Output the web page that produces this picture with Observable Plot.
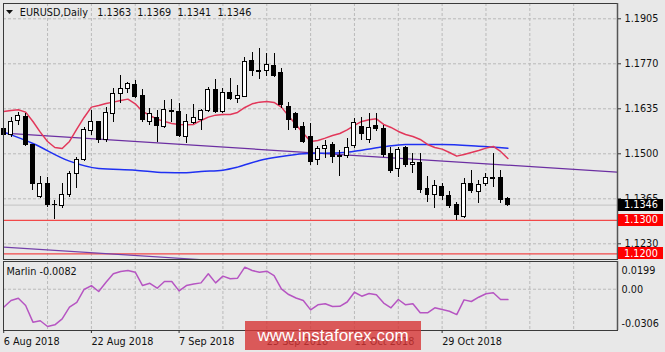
<!DOCTYPE html>
<html>
<head>
<meta charset="utf-8">
<script src="https://cdn.jsdelivr.net/npm/d3@7"></script>
<script src="https://cdn.jsdelivr.net/npm/@observablehq/plot@0.6"></script>
<style>
  html, body { margin: 0; padding: 0; background: #e8e8e8; }
  #chart { position: relative; width: 665px; height: 352px; overflow: hidden; background: #e8e8e8; }
  #chart svg { position: absolute; left: 0; }
  #chart svg text { white-space: pre; }
  #wm { position: absolute; left: 245px; top: 321px; width: 176px; height: 29px;
        background: rgba(214,52,52,0.8); color: #fff; font: 17px "Liberation Sans", Arial, sans-serif;
        line-height: 30px; text-align: center; }
</style>
</head>
<body>
<div id="chart"><div id="wm">www.instaforex.com</div></div>
<script>
// ---- data (daily EURUSD bars, 6 Aug 2018 .. 9 Nov 2018) ----
const opens = [1.1575,1.1555,1.1597,1.1610,1.1525,1.1370,1.1410,1.1347,1.1343,1.1375,
1.1440,1.1482,1.1568,1.1595,1.1540,1.1620,1.1680,1.1695,1.1707,1.1672,
1.1595,1.1608,1.1580,1.1628,1.1625,1.1550,1.1592,1.1602,1.1628,1.1690,
1.1625,1.1683,1.1665,1.1670,1.1778,1.1748,1.1747,1.1764,1.1742,1.1640,
1.1620,1.1580,1.1550,1.1480,1.1515,1.1525,1.1492,1.1492,1.1522,1.1580,
1.1542,1.1582,1.1575,1.1500,1.1455,1.1518,1.1466,1.1472,1.1395,1.1375,
1.1400,1.1372,1.1345,1.1310,1.1408,1.1385,1.1408,1.1425,1.1428,1.1363];
const highs = [1.1588,1.1610,1.1625,1.1620,1.1528,1.1432,1.1430,1.1360,1.1410,1.1447,
1.1490,1.1580,1.1630,1.1598,1.1640,1.1695,1.1735,1.1715,1.1720,1.1692,
1.1635,1.1630,1.1660,1.1662,1.1652,1.1618,1.1648,1.1632,1.1700,1.1722,
1.1697,1.1725,1.1705,1.1790,1.1805,1.1815,1.1800,1.1800,1.1757,1.1655,
1.1625,1.1595,1.1592,1.1522,1.1540,1.1535,1.1510,1.1545,1.1605,1.1610,
1.1620,1.1620,1.1585,1.1520,1.1520,1.1522,1.1500,1.1500,1.1432,1.1420,
1.1410,1.1388,1.1355,1.1425,1.1450,1.1420,1.1442,1.1500,1.1450,1.1369];
const lows = [1.1540,1.1548,1.1585,1.1522,1.1390,1.1366,1.1340,1.1302,1.1335,1.1370,
1.1395,1.1478,1.1555,1.1530,1.1535,1.1595,1.1650,1.1680,1.1665,1.1595,
1.1585,1.1535,1.1575,1.1595,1.1550,1.1530,1.1588,1.1570,1.1625,1.1620,
1.1620,1.1660,1.1650,1.1668,1.1732,1.1722,1.1732,1.1728,1.1636,1.1570,
1.1570,1.1530,1.1465,1.1465,1.1485,1.1470,1.1433,1.1485,1.1515,1.1540,
1.1530,1.1568,1.1490,1.1440,1.1430,1.1460,1.1440,1.1380,1.1355,1.1335,
1.1360,1.1335,1.1300,1.1305,1.1380,1.1352,1.1402,1.1400,1.1352,1.1341];
const closes = [1.1555,1.1595,1.1612,1.1525,1.1410,1.1410,1.1345,1.1345,1.1375,1.1438,
1.1482,1.1570,1.1595,1.1540,1.1622,1.1680,1.1695,1.1708,1.1670,1.1600,
1.1620,1.1582,1.1632,1.1626,1.1552,1.1595,1.1608,1.1627,1.1690,1.1625,
1.1682,1.1665,1.1672,1.1775,1.1747,1.1746,1.1767,1.1732,1.1645,1.1600,
1.1578,1.1535,1.1475,1.1515,1.1522,1.1490,1.1490,1.1517,1.1592,1.1558,
1.1578,1.1575,1.1495,1.1448,1.1512,1.1465,1.1472,1.1390,1.1375,1.1402,
1.1372,1.1342,1.1315,1.1408,1.1388,1.1407,1.1428,1.1428,1.1362,1.1346];

// red moving average (one value per bar)
const redMA = [1.1627,1.1630,1.1632,1.1625,1.1597,1.1565,1.1537,1.1519,1.1516,1.1537,
1.1574,1.1609,1.1640,1.1645,1.1651,1.1655,1.1660,1.1664,1.1650,1.1627,
1.1615,1.1604,1.1597,1.1591,1.1588,1.1587,1.1588,1.1600,1.1610,1.1616,
1.1618,1.1618,1.1624,1.1639,1.1650,1.1655,1.1657,1.1654,1.1640,1.1613,
1.1587,1.1562,1.1537,1.1540,1.1547,1.1555,1.1561,1.1572,1.1585,1.1597,
1.1602,1.1605,1.1588,1.1579,1.1567,1.1558,1.1552,1.1543,1.1528,1.1519,
1.1514,1.1504,1.1493,1.1498,1.1504,1.1510,1.1517,1.1522,1.1507,1.1486];

// blue moving average (read at these bars)
const blueBars = [0,4,9,13,18,22,25,27,30,32,35,38,41,44,47,49,52,55,60,65,69];
const blueMA = [1.1565,1.1531,1.1478,1.1456,1.1451,1.1444,1.1443,1.1447,1.1451,1.1460,
1.1480,1.1492,1.1500,1.1502,1.1505,1.1511,1.1521,1.1528,1.1528,1.1523,1.1517];

// purple channel lines (bar index -> price)
const trendBars = [0, 84];
const trendUpper = [1.1562, 1.1445];
const trendLower = [1.1220, 1.1103];

// Marlin oscillator (one value per bar)
const marlin = [-0.0142,-0.0089,-0.0071,-0.0129,-0.0260,-0.0249,-0.0294,-0.0281,-0.0234,-0.0142,
-0.0103,-0.0002,0.0029,-0.0018,0.0055,0.0122,0.0140,0.0148,0.0134,0.0029,
0.0047,0.0008,0.0061,0.0061,-0.0013,0.0029,0.0041,0.0050,0.0122,0.0050,
0.0103,0.0082,0.0087,0.0174,0.0148,0.0134,0.0142,0.0108,0.0003,-0.0042,
-0.0069,-0.0089,-0.0163,-0.0123,-0.0115,-0.0136,-0.0135,-0.0101,-0.0024,-0.0055,
-0.0034,-0.0044,-0.0109,-0.0147,-0.0081,-0.0123,-0.0115,-0.0186,-0.0186,-0.0147,
-0.0160,-0.0174,-0.0200,-0.0084,-0.0097,-0.0063,-0.0036,-0.0028,-0.0081,-0.0082];

const priceTicks = [1.1905, 1.1770, 1.1635, 1.1500, 1.1365, 1.1230];
const bidPrice = 1.1346;
const levelLines = [1.1300, 1.1200];
const marlinTicks = [0.0199, 0.00, -0.0306];
const marlinTickLabels = ["0.0199", "0.00", "-0.0306"];
const dateBars = [0, 12, 24, 36, 48, 60];
const dateLabels = ["6 Aug 2018", "22 Aug 2018", "7 Sep 2018", "25 Sep 2018", "11 Oct 2018", "29 Oct 2018"];
const symbolName = "EURUSD,Daily";
const indicatorName = "Marlin";

// ---- drawing ----
const f4 = v => v.toFixed(4);
const n = opens.length;
const last = n - 1;
const bars = d3.range(n).map(i => ({i, o: opens[i], h: highs[i], l: lows[i], c: closes[i]}));
const xDomain = [-0.03, 84.0];
const gridBars = d3.range(6, 84, 6);
const font = "'DejaVu Sans', sans-serif";
const grid = {stroke: "#bababa", strokeDasharray: "3,2"};
const baseStyle = {background: "transparent", fontFamily: font, fontSize: "9.7px", color: "#111", overflow: "visible"};
const title = `${symbolName}   ${f4(opens[last])}  ${f4(highs[last])}  ${f4(lows[last])}  ${f4(closes[last])}`;

const main = Plot.plot({
  width: 665, height: 260,
  marginLeft: 3, marginRight: 48, marginTop: 3, marginBottom: 1,
  style: baseStyle,
  x: {domain: xDomain, axis: null},
  y: {domain: [1.11829, 1.19509], axis: null},
  marks: [
    Plot.ruleX(gridBars, {x: d => d, ...grid}),
    Plot.ruleY(priceTicks, {y: d => d, ...grid}),
    Plot.ruleY([bidPrice], {y: d => d, stroke: "#c2c2c2"}),
    Plot.ruleY(levelLines, {y: d => d, stroke: "#f24848", strokeWidth: 1.2}),
    Plot.line(trendBars, {x: d => d, y: (d, k) => trendUpper[k], stroke: "#6c2fa2", strokeWidth: 1.2, clip: true}),
    Plot.line(trendBars, {x: d => d, y: (d, k) => trendLower[k], stroke: "#7440aa", strokeWidth: 1.2, clip: true}),
    Plot.line(blueBars, {x: d => d, y: (d, k) => blueMA[k], stroke: "#1f30f2", curve: "monotone-x"}),
    Plot.line(redMA, {x: (d, i) => i, y: d => d, stroke: "#e2375a"}),
    Plot.ruleX(bars, {x: "i", y1: "l", y2: "h", stroke: "#000", shapeRendering: "crispEdges"}),
    Plot.rect(bars, {x1: d => d.i - 0.27, x2: d => d.i + 0.27, y1: "o", y2: "c",
      fill: d => d.c >= d.o ? "#fff" : "#000", stroke: "#000", shapeRendering: "crispEdges"}),
    Plot.ruleY(bars.filter(d => Math.abs(d.c - d.o) < 0.00012),
      {y: "c", x1: d => d.i - 0.27, x2: d => d.i + 0.27, stroke: "#000", shapeRendering: "crispEdges"}),
    Plot.frame({stroke: "#3a3a3a"}),
    Plot.ruleX([xDomain[1]], {x: d => d, stroke: "#555", strokeWidth: 1.5}),
    Plot.axisY(priceTicks, {anchor: "right", tickFormat: f4, tickSize: 3, tickPadding: 4, stroke: "#333", fill: "#111"}),
    Plot.text([title], {frameAnchor: "top-left", dx: 16.3, dy: 5.8, fill: "#111", textAnchor: "start", lineAnchor: "top"})
  ]
});

const sub = Plot.plot({
  width: 665, height: 92,
  marginLeft: 3, marginRight: 48, marginTop: 1, marginBottom: 22,
  style: baseStyle,
  x: {domain: xDomain, axis: null},
  y: {domain: [-0.03257, 0.02187], axis: null},
  marks: [
    Plot.ruleX(gridBars, {x: d => d, ...grid}),
    Plot.ruleY([0], {y: d => d, ...grid}),
    Plot.line(marlin, {x: (d, i) => i, y: d => d, stroke: "#b655c2"}),
    Plot.frame({stroke: "#3a3a3a"}),
    Plot.ruleX([xDomain[1]], {x: d => d, stroke: "#555", strokeWidth: 1.5}),
    Plot.axisX(dateBars, {anchor: "bottom", tickSize: 3, tickPadding: 4.4, textAnchor: "start",
      tickFormat: d => dateLabels[dateBars.indexOf(d)], stroke: "#333", fill: "#111"}),
    Plot.text([0], {frameAnchor: "right", y: () => marlinTicks[0], text: () => marlinTickLabels[0], dx: 4, dy: 6.5, textAnchor: "start", fill: "#111"}),
    Plot.text([1], {frameAnchor: "right", y: () => marlinTicks[1], text: () => marlinTickLabels[1], dx: 4, dy: 0.3, textAnchor: "start", fill: "#111"}),
    Plot.text([2], {frameAnchor: "right", y: () => marlinTicks[2], text: () => marlinTickLabels[2], dx: 4, dy: -4, textAnchor: "start", fill: "#111"}),
    Plot.text([`${indicatorName} ${f4(marlin[last])}`], {frameAnchor: "top-left", dx: 3, dy: 7.1, lineAnchor: "top", textAnchor: "start", fill: "#111"})
  ]
});

// right-side price boxes (positioned through the plot's y scale)
const yS = main.scale("y");
const xR = main.scale("x").range[1];
const boxes = [{p: bidPrice, fill: "#000"}].concat(levelLines.map(p => ({p, fill: "#ff0000"})));
const g = d3.select(main).append("g")
  .attr("font-family", font).attr("font-size", "9.7px").attr("text-anchor", "start");
for (const b of boxes) {
  const y = yS.apply(b.p);
  g.append("rect").attr("x", xR + 1).attr("y", Math.round(y) - 6).attr("width", 45).attr("height", 12).attr("fill", b.fill);
  g.append("text").attr("x", xR + 7).attr("y", y).attr("dy", "0.35em").attr("text-anchor", "start")
    .attr("fill", "#fff").text(f4(b.p));
}
// menu triangle before the title
d3.select(main).append("path").attr("d", "M6,10L13,10L9.5,14Z").attr("fill", "#111");

const chart = document.getElementById("chart");
main.style.top = "0px";
sub.style.top = "260px";
chart.insertBefore(sub, chart.firstChild);
chart.insertBefore(main, chart.firstChild);
</script>
</body>
</html>
